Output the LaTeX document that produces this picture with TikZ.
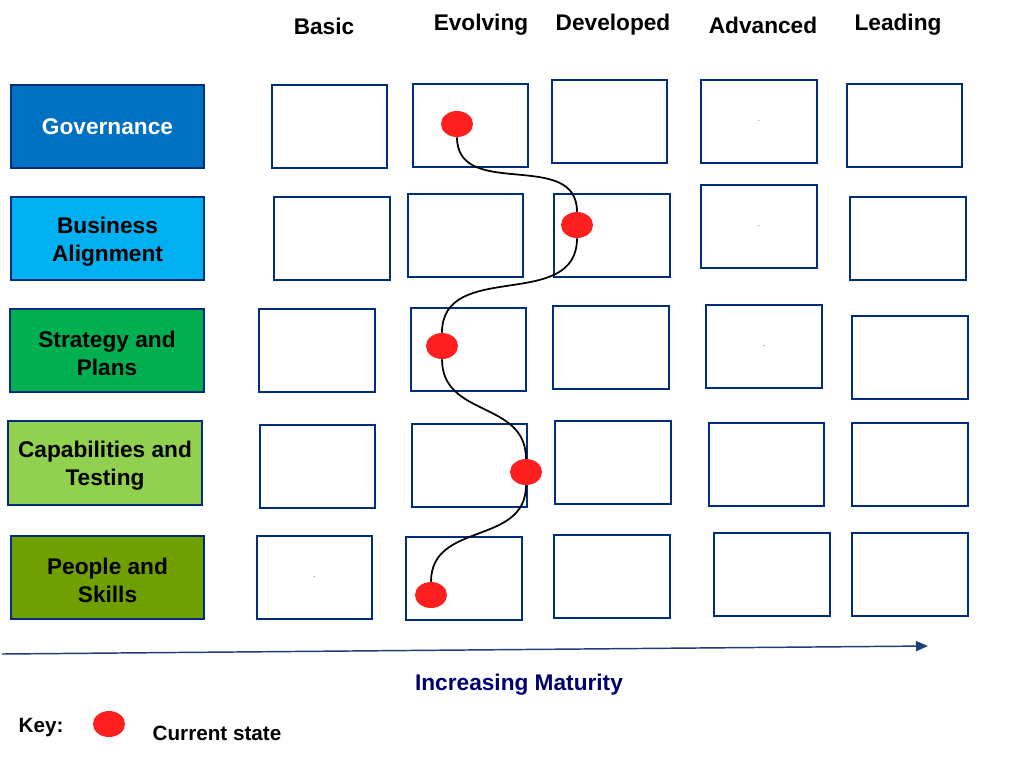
\documentclass[tikz,border=0pt]{standalone}
\usepackage{fontspec}
\setmainfont{Liberation Sans}
\usetikzlibrary{arrows.meta}
\usetikzlibrary{shapes.geometric,positioning}

\definecolor{navy}{HTML}{002E7D}
\definecolor{govblue}{HTML}{0070C0}
\definecolor{busblue}{HTML}{00B0F0}
\definecolor{strgreen}{HTML}{00B050}
\definecolor{capgreen}{HTML}{92D050}
\definecolor{peogreen}{HTML}{70A000}
\definecolor{dotred}{HTML}{FF1F1F}
\definecolor{arrowblue}{HTML}{1F3D7A}
\definecolor{titleblue}{HTML}{000070}
\newcommand{\uplift}{\rule{0pt}{16.5pt}}

\begin{document}
\begin{tikzpicture}[x=0.75pt,y=-0.75pt]
\useasboundingbox (0,0) rectangle (1028,776);
\begin{scope}[every node/.style={font=\fontsize{17}{20}\selectfont\bfseries}]
    \node (basic) at (324,26.5) {Basic};
    \node (evolving) at (481,24.5) {Evolving};
    \node (developed) at (613,24.5) {Developed};
    \node (advanced) at (763,25.5) {Advanced};
    \node (leading) at (898,24.5) {Leading};
\end{scope}
\begin{scope}[every node/.style={draw=navy,line width=1.5pt,inner sep=0pt,align=center,
              minimum width=144.75pt,minimum height=62.25pt,font=\fontsize{17}{21}\selectfont\bfseries}]
    \node[fill=govblue,text=white] (G) at (107.5,126.5) {Governance};
    \node[fill=busblue] (B) at (107.5,238.5) {\uplift Business\\Alignment};
    \node[fill=strgreen,minimum width=145.5pt] (S) at (107,350.5) {\uplift Strategy and\\Plans};
    \node[fill=capgreen,minimum width=145.5pt,minimum height=63pt] (C) at (105,463) {\uplift Capabilities and\\Testing};
    \node[fill=peogreen] (P) at (107.5,577.5) {\uplift People and\\Skills};
\end{scope}
\begin{scope}[every node/.style={draw=navy,line width=1.5pt,inner sep=0pt,
              minimum width=86.5pt,minimum height=62.25pt,font=\tiny}]
    \node (G1) at (329.5,126.5) {};
    \node (G2) at (470.5,125.5) {};
    \node (G3) at (609.5,121.5) {};
    \node (G4) at (759,121.5) {.};
    \node (G5) at (904.5,125.5) {};
    \node (B1) at (332,238.5) {};
    \node (B2) at (465.5,235.5) {};
    \node (B3) at (612,235.5) {};
    \node (B4) at (759,226.5) {.};
    \node (B5) at (908,238.5) {};
    \node (S1) at (317,350.5) {};
    \node (S2) at (468.5,349.5) {};
    \node (S3) at (611,347.5) {};
    \node (S4) at (764,346.5) {.};
    \node (S5) at (910,357.5) {};
    \node (C1) at (317.5,466.5) {};
    \node (C2) at (469.5,465) {};
    \node (C3) at (613,462.5) {};
    \node (C4) at (766.5,464.5) {};
    \node (C5) at (910,464.5) {};
    \node (P1) at (314.5,577.5) {.};
    \node (P2) at (464,578.5) {};
    \node (P3) at (612,576.5) {};
    \node (P4) at (772,574.5) {};
    \node (P5) at (910,574.5) {};
\end{scope}
\begin{scope}[every node/.style={ellipse,fill=dotred,inner sep=0pt,minimum width=24pt,minimum height=19.5pt}]
    \node (d1) at (457,124) {};
    \node (d2) at (577,225) {};
    \node (d3) at (442,346) {};
    \node (d4) at (526,472) {};
    \node (d5) at (431,595) {};
    \node (dkey) at (109,724) {};
\end{scope}
\begin{scope}[every edge/.style={draw=black,line width=1.3pt,out=-90,in=90,looseness=1.15}]
    \path (d1.south) edge (d2.north);
    \path (d2.south) edge (d3.north);
    \path (d3.south) edge (d4.north);
    \path (d4.south) edge (d5.north);
\end{scope}
\coordinate (m0) at (2,654);
\coordinate (m1) at (928,646);
\draw[arrowblue,line width=1.1pt,-{Triangle[length=9pt,width=7.5pt]}] (m0) -- (m1);
\node[text=titleblue,font=\fontsize{17}{20}\selectfont\bfseries] (mat) at (519,685) {Increasing Maturity};
\node[font=\fontsize{15.5}{18}\selectfont\bfseries] (key) at (41,728) {Key:};
\node[font=\fontsize{15.5}{18}\selectfont\bfseries] (cur) at (217,733) {Current state};
\end{tikzpicture}
\end{document}
